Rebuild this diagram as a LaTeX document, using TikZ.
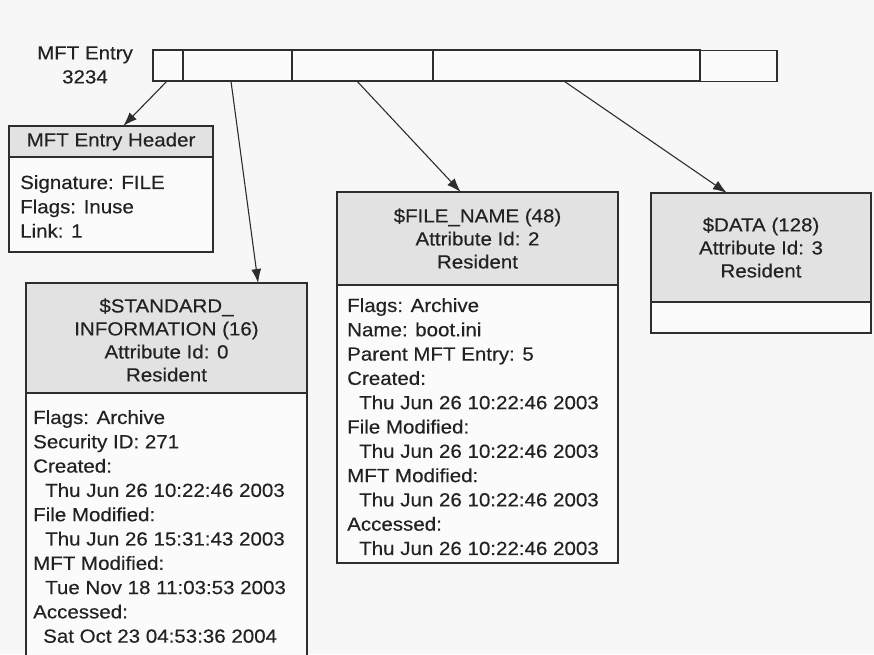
\documentclass[tikz,border=0pt]{standalone}
\usepackage{fontspec}
\setmainfont{Liberation Sans}[FakeStretch=1.08,FakeBold=0.3]
\usetikzlibrary{arrows.meta,calc}
\definecolor{ink}{HTML}{222222}
\definecolor{linec}{HTML}{2E2E2E}
\definecolor{hdrfill}{HTML}{E2E2E2}
\definecolor{paper}{HTML}{F7F7F7}
\definecolor{boxfill}{HTML}{FBFBFB}
\begin{document}
\begin{tikzpicture}[x=1pt,y=-1pt,
  frame/.style={draw=linec, line width=1.3pt, fill=boxfill, inner sep=0pt, outer sep=0pt, anchor=north west},
  headband/.style={frame, fill=hdrfill},
  seg/.style={draw=linec, line width=2pt, fill=boxfill, inner sep=0pt, outer sep=0pt, anchor=north west, minimum height=31pt},
  thinseg/.style={seg, line width=1.1pt},
  htext/.style={text=ink, align=center, inner sep=0pt, font=\fontsize{19}{23}\selectfont},
  btext/.style={text=ink, align=left, inner sep=0pt, anchor=north west, font=\fontsize{19}{24.3}\selectfont},
  arr/.style={draw=linec, line width=1.1pt, -{Latex[length=14pt,width=10pt]}}
]
\clip (0,0) rectangle (874,654);
\fill[paper] (0,0) rectangle (874,654);

% MFT entry bar
\node[text=ink, align=center, inner sep=0pt, font=\fontsize{19}{24}\selectfont] (label) at (85,65) {MFT Entry\\3234};
\node[thinseg, minimum width=77pt] (seg5) at (700,50.5) {};
\node[seg, minimum width=30pt] (seg1) at (153,50) {};
\node[seg, minimum width=109pt] (seg2) at (183,50) {};
\node[seg, minimum width=141pt] (seg3) at (292,50) {};
\node[seg, minimum width=267pt] (seg4) at (433,50) {};

% MFT Entry Header box
\node[frame, minimum width=204pt, minimum height=126pt] (hdrbox) at (9,126) {};
\node[headband, minimum width=204pt, minimum height=31pt] (hdrhead) at (9,126) {};
\node[htext] (hdrtitle) at (hdrhead.center) {MFT Entry Header};
\node[btext] (hdrbody) at (20,175) {Signature: FILE\\Flags: Inuse\\Link: 1};

% $STANDARD_INFORMATION box
\node[frame, minimum width=281pt, minimum height=400pt] (stdbox) at (26,283) {};
\node[headband, minimum width=281pt, minimum height=110pt] (stdhead) at (26,283) {};
\node[htext] (stdtitle) at ($(stdhead.center)+(0,2)$) {\$STANDARD\_\\INFORMATION (16)\\Attribute Id: 0\\Resident};
\node[btext] (stdbody) at (33,410) {Flags: Archive\\Security ID: 271\\Created:\\\hspace*{12pt}Thu Jun 26 10:22:46 2003\\File Modified:\\\hspace*{12pt}Thu Jun 26 15:31:43 2003\\MFT Modified:\\\hspace*{12pt}Tue Nov 18 11:03:53 2003\\Accessed:\\\hspace*{10pt}Sat Oct 23 04:53:36 2004};

% $FILE_NAME box
\node[frame, minimum width=281pt, minimum height=371pt] (fnbox) at (337,192) {};
\node[headband, minimum width=281pt, minimum height=93pt] (fnhead) at (337,192) {};
\node[htext] (fntitle) at (fnhead.center) {\$FILE\_NAME (48)\\Attribute Id: 2\\Resident};
\node[btext] (fnbody) at (347,298) {Flags: Archive\\Name: boot.ini\\Parent MFT Entry: 5\\Created:\\\hspace*{12pt}Thu Jun 26 10:22:46 2003\\File Modified:\\\hspace*{12pt}Thu Jun 26 10:22:46 2003\\MFT Modified:\\\hspace*{12pt}Thu Jun 26 10:22:46 2003\\Accessed:\\\hspace*{12pt}Thu Jun 26 10:22:46 2003};

% $DATA box
\node[frame, minimum width=220pt, minimum height=140pt] (databox) at (651,193) {};
\node[headband, minimum width=220pt, minimum height=109pt] (datahead) at (651,193) {};
\node[htext] (datatitle) at (datahead.center) {\$DATA (128)\\Attribute Id: 3\\Resident};

% connectors
\draw[arr] ($(seg1.south west)!0.47!(seg1.south east)$) -- ($(hdrhead.north west)!0.56!(hdrhead.north east)$);
\draw[arr] ($(seg2.south west)!0.44!(seg2.south east)$) -- ($(stdhead.north west)!0.826!(stdhead.north east)$);
\draw[arr] ($(seg3.south west)!0.46!(seg3.south east)$) -- ($(fnhead.north west)!0.44!(fnhead.north east)$);
\draw[arr] ($(seg4.south west)!0.49!(seg4.south east)$) -- ($(datahead.north west)!0.345!(datahead.north east)$);
\end{tikzpicture}
\end{document}
